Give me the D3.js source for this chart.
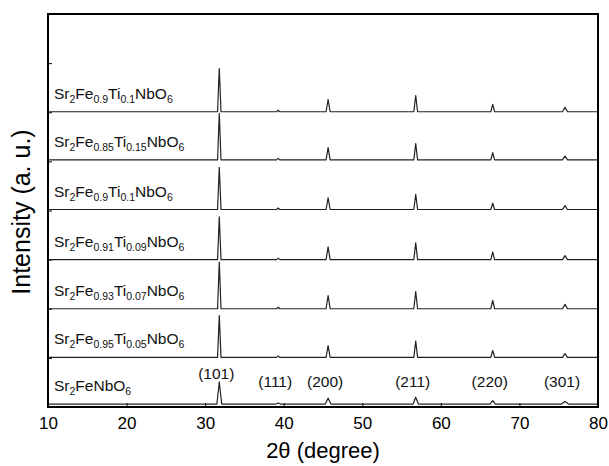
<!DOCTYPE html>
<html>
<head>
<meta charset="utf-8">
<script src="https://d3js.org/d3.v7.min.js"></script>
<style>
  body { margin: 0; background: #fff; }
  svg { display: block; font-family: Arial, "Liberation Sans", Helvetica, sans-serif; }
</style>
</head>
<body>
<svg width="609" height="466"></svg>
<script>
// samples, bottom to top
var samples = [
  "Sr2FeNbO6",
  "Sr2Fe0.95Ti0.05NbO6",
  "Sr2Fe0.93Ti0.07NbO6",
  "Sr2Fe0.91Ti0.09NbO6",
  "Sr2Fe0.9Ti0.1NbO6",
  "Sr2Fe0.85Ti0.15NbO6",
  "Sr2Fe0.9Ti0.1NbO6"
];
var offsets = [0.06, 1.01, 2.0, 3.0, 4.02, 5.03, 6.01];

var hkl = ["(101)", "(111)", "(200)", "(211)", "(220)", "(301)"];
var peakPos = [31.8, 39.3, 45.65, 56.8, 66.6, 75.8];
var peakHalfWidth = [0.22, 0.2, 0.26, 0.24, 0.24, 0.32];

// peak heights per sample, same order as hkl
var peakHeights = [
  [0.45, 0.02, 0.12, 0.14, 0.07, 0.05],
  [0.85, 0.03, 0.24, 0.33, 0.14, 0.08],
  [0.95, 0.03, 0.27, 0.35, 0.17, 0.09],
  [0.87, 0.03, 0.26, 0.34, 0.155, 0.08],
  [0.86, 0.03, 0.24, 0.31, 0.13, 0.08],
  [0.95, 0.03, 0.25, 0.33, 0.15, 0.08],
  [0.88, 0.03, 0.25, 0.33, 0.15, 0.09]
];

var xTicks = [10, 20, 30, 40, 50, 60, 70, 80];

var svg = d3.select("svg");
var margin = {left: 48, right: 11, top: 14, bottom: 59};
var W = 609, H = 466;

var x = d3.scaleLinear().domain([10, 80]).range([margin.left, W - margin.right]);
var y = d3.scaleLinear().domain([0, 8]).range([H - margin.bottom, margin.top]);

// inward ticks
svg.append("g")
  .attr("transform", "translate(0," + y(0) + ")")
  .call(d3.axisBottom(x).tickValues(xTicks).tickSizeInner(-4).tickSizeOuter(0).tickPadding(10))
  .call(function(g) {
    g.select(".domain").remove();
    g.selectAll(".tick line").attr("stroke", "#000").attr("stroke-width", 1);
    g.selectAll("text").attr("font-size", 17).attr("fill", "#000");
  });

svg.append("g")
  .attr("transform", "translate(" + x(10) + ",0)")
  .call(d3.axisLeft(y).tickValues(d3.range(0, 9)).tickSizeInner(-4).tickSizeOuter(0).tickFormat(""))
  .call(function(g) {
    g.select(".domain").remove();
    g.selectAll(".tick line").attr("stroke", "#000").attr("stroke-width", 1);
  });

// traces
var line = d3.line()
  .x(function(d) { return x(d[0]); })
  .y(function(d) { return y(d[1]); });

function tracePoints(i) {
  var pts = [[10, offsets[i]]];
  peakPos.forEach(function(p, k) {
    var w = peakHalfWidth[k] * (i === 0 ? 1.4 : 1);
    pts.push([p - w, offsets[i]]);
    pts.push([p, offsets[i] + peakHeights[i][k]]);
    pts.push([p + w, offsets[i]]);
  });
  pts.push([80, offsets[i]]);
  return pts;
}

svg.append("g")
  .attr("class", "traces")
  .selectAll("path")
  .data(samples)
  .enter().append("path")
  .attr("d", function(d, i) { return line(tracePoints(i)); })
  .attr("fill", "none")
  .attr("stroke", "#222")
  .attr("stroke-width", 1.2)
  .attr("stroke-linejoin", "round");

// sample labels with subscripts
var labels = svg.append("g").attr("class", "labels")
  .selectAll("text")
  .data(samples)
  .enter().append("text")
  .attr("x", 54)
  .attr("y", function(d, i) { return y(offsets[i]) - 13; })
  .attr("font-size", 15.5)
  .attr("fill", "#111");

labels.each(function(d) {
  var t = d3.select(this);
  var re = /([A-Z][a-z]?)([\d.]*)/g, m, lifted = false;
  while ((m = re.exec(d)) !== null) {
    t.append("tspan").attr("dy", lifted ? -4 : 0).text(m[1]);
    lifted = false;
    if (m[2]) {
      t.append("tspan").attr("font-size", 10.5).attr("dy", 4).text(m[2]);
      lifted = true;
    }
  }
});

// hkl labels above the bottom pattern
svg.append("g")
  .attr("class", "hkl")
  .selectAll("text")
  .data(hkl)
  .enter().append("text")
  .attr("x", function(d, k) { return x(peakPos[k]) - 3; })
  .attr("y", function(d, k) { return Math.min(y(offsets[0] + peakHeights[0][k]) - 3, 386.5); })
  .attr("text-anchor", "middle")
  .attr("font-size", 15.5)
  .attr("fill", "#111")
  .text(function(d) { return d; });

// frame
svg.append("rect")
  .attr("x", x(10))
  .attr("y", y(8))
  .attr("width", x(80) - x(10))
  .attr("height", y(0) - y(8))
  .attr("fill", "none")
  .attr("stroke", "#000")
  .attr("stroke-width", 2);

// axis titles
svg.append("text")
  .attr("x", (x(10) + x(80)) / 2)
  .attr("y", 458)
  .attr("text-anchor", "middle")
  .attr("font-size", 22)
  .text("2\u03B8 (degree)");

svg.append("text")
  .attr("transform", "translate(30," + 212 + ") rotate(-90)")
  .attr("text-anchor", "middle")
  .attr("font-size", 25)
  .text("Intensity (a. u.)");
</script>
</body>
</html>
